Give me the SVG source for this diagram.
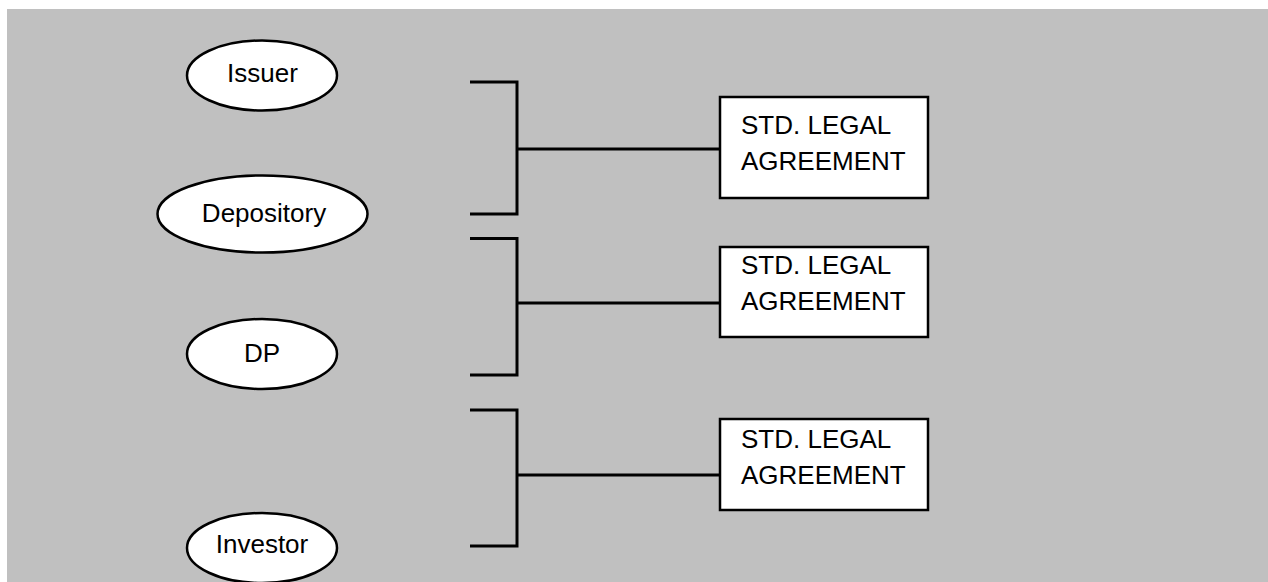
<svg xmlns="http://www.w3.org/2000/svg" width="1268" height="582" viewBox="0 0 1268 582">
<style>
.bg{fill:#c0c0c0}
.ell{fill:#fff;stroke:#000;stroke-width:2.5}
.box{fill:#fff;stroke:#000;stroke-width:2.5}
.ln{fill:none;stroke:#000;stroke-width:3}
text{font-family:"Liberation Sans",Arial,sans-serif;font-size:26px;fill:#000}
.c{text-anchor:middle}
</style>
<rect class="bg" x="7" y="9" width="1261" height="573"/>
<g id="connectors">
<path class="ln" d="M470 82 H517 V214 H470 M517 149 H720"/>
<path class="ln" d="M470 238.5 H517 V375 H470 M517 303 H720"/>
<path class="ln" d="M470 410 H517 V546 H470 M517 475 H720"/>
</g>
<g id="issuer"><ellipse class="ell" cx="262" cy="75.5" rx="75" ry="35"/><text class="c" x="262.5" y="82">Issuer</text></g>
<g id="depository"><ellipse class="ell" cx="262.5" cy="214" rx="105" ry="38.5"/><text class="c" x="264" y="222">Depository</text></g>
<g id="dp"><ellipse class="ell" cx="262" cy="354" rx="75" ry="35"/><text class="c" x="262" y="362">DP</text></g>
<g id="investor"><ellipse class="ell" cx="262" cy="548" rx="75" ry="35"/><text class="c" x="262" y="553">Investor</text></g>
<g id="agreement1"><rect class="box" x="720" y="97" width="208" height="101"/><text x="741" y="134">STD. LEGAL</text><text x="741" y="170">AGREEMENT</text></g>
<g id="agreement2"><rect class="box" x="720" y="247" width="208" height="90"/><text x="741" y="274">STD. LEGAL</text><text x="741" y="310">AGREEMENT</text></g>
<g id="agreement3"><rect class="box" x="720" y="419" width="208" height="91"/><text x="741" y="448">STD. LEGAL</text><text x="741" y="484">AGREEMENT</text></g>
</svg>
